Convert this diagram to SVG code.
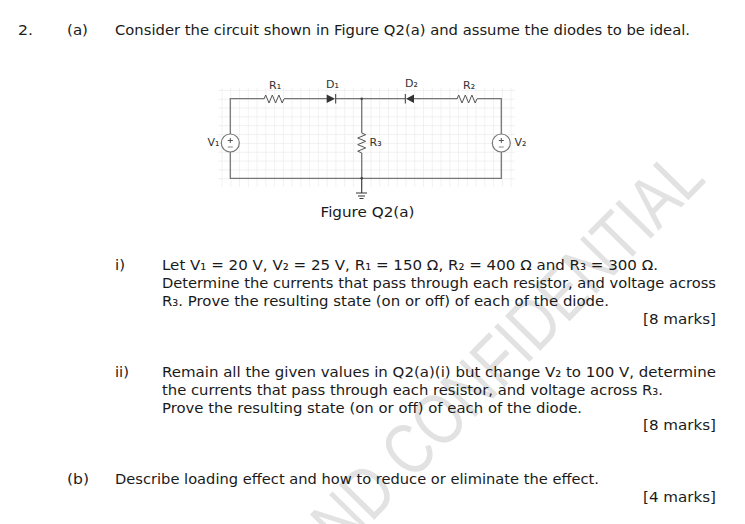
<svg xmlns="http://www.w3.org/2000/svg" width="745" height="524" viewBox="0 0 745 524">
<style>
text{font-family:"DejaVu Sans",Verdana,sans-serif;fill:#1a1a1a}
.t{font-size:14.600px}
.l{font-size:11px;fill:#333}
.w{fill:none;stroke:#777;stroke-width:1.300}
.k{fill:none;stroke:#555;stroke-width:1}
.wm{font-family:"Liberation Sans",Arial,sans-serif;font-size:72px;fill:#e2e2e2}
</style>
<defs>
<path id="res" d="M0 0l1.700 -4 3.300 8 3.300 -8 3.300 8 3.300 -8 3.300 8 1.700 -4" class="k"/>
<g id="src"><circle r="9" fill="#fff" stroke="#777" stroke-width="1.200"/><path d="M-2.500 -2.500h5M0 -5v5" stroke="#555" fill="none"/><path d="M-2.500 4h5" stroke="#888" fill="none"/></g>
<pattern id="gridcell" patternUnits="userSpaceOnUse" x="230.300" y="98.700" width="8.760" height="8.840"><path d="M0 0H8.760M0 0V8.840" stroke="#ececec" stroke-width="1.400" fill="none"/></pattern>
</defs>
<rect width="745" height="524" fill="#fff"/>
<text class="wm" transform="translate(315 580) rotate(-45.500)" textLength="560" lengthAdjust="spacingAndGlyphs">AND CONFIDENTIAL</text>
<g id="grid"><rect x="218" y="88" width="297" height="99" fill="url(#gridcell)"/></g>
<g id="connectors">
<path class="w" d="M230.300 134V98.700H264M284 98.700H327M336 98.700H405M414 98.700H457M477 98.700H501.300V134M230.300 152V178.300H501.300V152M361.700 98.700V133M361.700 153V178.300"/>
<path d="M361.700 178.300V193" stroke="#333" stroke-width="1.100" fill="none"/>
<circle cx="361.700" cy="98.700" r="1.300" fill="#444"/>
<circle cx="361.700" cy="178.300" r="1.300" fill="#444"/>
</g>
<g id="V1"><use href="#src" x="230.300" y="143"/><text class="l" x="207.500" y="146">V₁</text></g>
<g id="V2"><use href="#src" x="501.300" y="143"/><text class="l" x="514.500" y="146">V₂</text></g>
<g id="R1"><use href="#res" x="264" y="99"/><text class="l" x="269" y="89">R₁</text></g>
<g id="R2"><use href="#res" x="457" y="99"/><text class="l" x="463" y="88.500">R₂</text></g>
<g id="R3"><use href="#res" transform="translate(361.700 133) rotate(90)"/><text class="l" x="369.500" y="146">R₃</text></g>
<g id="D1"><path d="M326.700 94.500V103L335 98.700Z" fill="#333"/><path d="M335.700 94V103.500" stroke="#333"/><text class="l" x="326" y="88">D₁</text></g>
<g id="D2"><path d="M414 94.500V103L406 98.700Z" fill="#333"/><path d="M405.300 94V103.500" stroke="#333"/><text class="l" x="405" y="87">D₂</text></g>
<g id="GND"><path d="M356 193h11M358 196h7M359.500 198.500h4" stroke="#333" fill="none"/></g>
<g id="text" lengthAdjust="spacingAndGlyphs">
<text class="t" x="18" y="35" textLength="15" lengthAdjust="spacingAndGlyphs">2.</text>
<text class="t" x="67" y="35" textLength="21" lengthAdjust="spacingAndGlyphs">(a)</text>
<text class="t" x="115" y="35" textLength="575" lengthAdjust="spacingAndGlyphs">Consider the circuit shown in Figure Q2(a) and assume the diodes to be ideal.</text>
<text class="t" x="320.500" y="217" textLength="94" lengthAdjust="spacingAndGlyphs">Figure Q2(a)</text>
<text class="t" x="115" y="270" textLength="10" lengthAdjust="spacingAndGlyphs">i)</text>
<text class="t" x="162" y="270" textLength="496" lengthAdjust="spacingAndGlyphs">Let V₁ = 20 V, V₂ = 25 V, R₁ = 150 Ω, R₂ = 400 Ω and R₃ = 300 Ω.</text>
<text class="t" x="162" y="288" textLength="554" lengthAdjust="spacingAndGlyphs">Determine the currents that pass through each resistor, and voltage across</text>
<text class="t" x="162" y="306" textLength="447" lengthAdjust="spacingAndGlyphs">R₃. Prove the resulting state (on or off) of each of the diode.</text>
<text class="t" x="643" y="324" textLength="73" lengthAdjust="spacingAndGlyphs">[8 marks]</text>
<text class="t" x="115" y="377" textLength="14" lengthAdjust="spacingAndGlyphs">ii)</text>
<text class="t" x="162" y="377" textLength="554" lengthAdjust="spacingAndGlyphs">Remain all the given values in Q2(a)(i) but change V₂ to 100 V, determine</text>
<text class="t" x="162" y="395" textLength="501" lengthAdjust="spacingAndGlyphs">the currents that pass through each resistor, and voltage across R₃.</text>
<text class="t" x="162" y="413" textLength="420" lengthAdjust="spacingAndGlyphs">Prove the resulting state (on or off) of each of the diode.</text>
<text class="t" x="643" y="430" textLength="73" lengthAdjust="spacingAndGlyphs">[8 marks]</text>
<text class="t" x="67" y="484" textLength="22" lengthAdjust="spacingAndGlyphs">(b)</text>
<text class="t" x="115" y="484" textLength="484" lengthAdjust="spacingAndGlyphs">Describe loading effect and how to reduce or eliminate the effect.</text>
<text class="t" x="643" y="502" textLength="73" lengthAdjust="spacingAndGlyphs">[4 marks]</text>
</g>
</svg>
